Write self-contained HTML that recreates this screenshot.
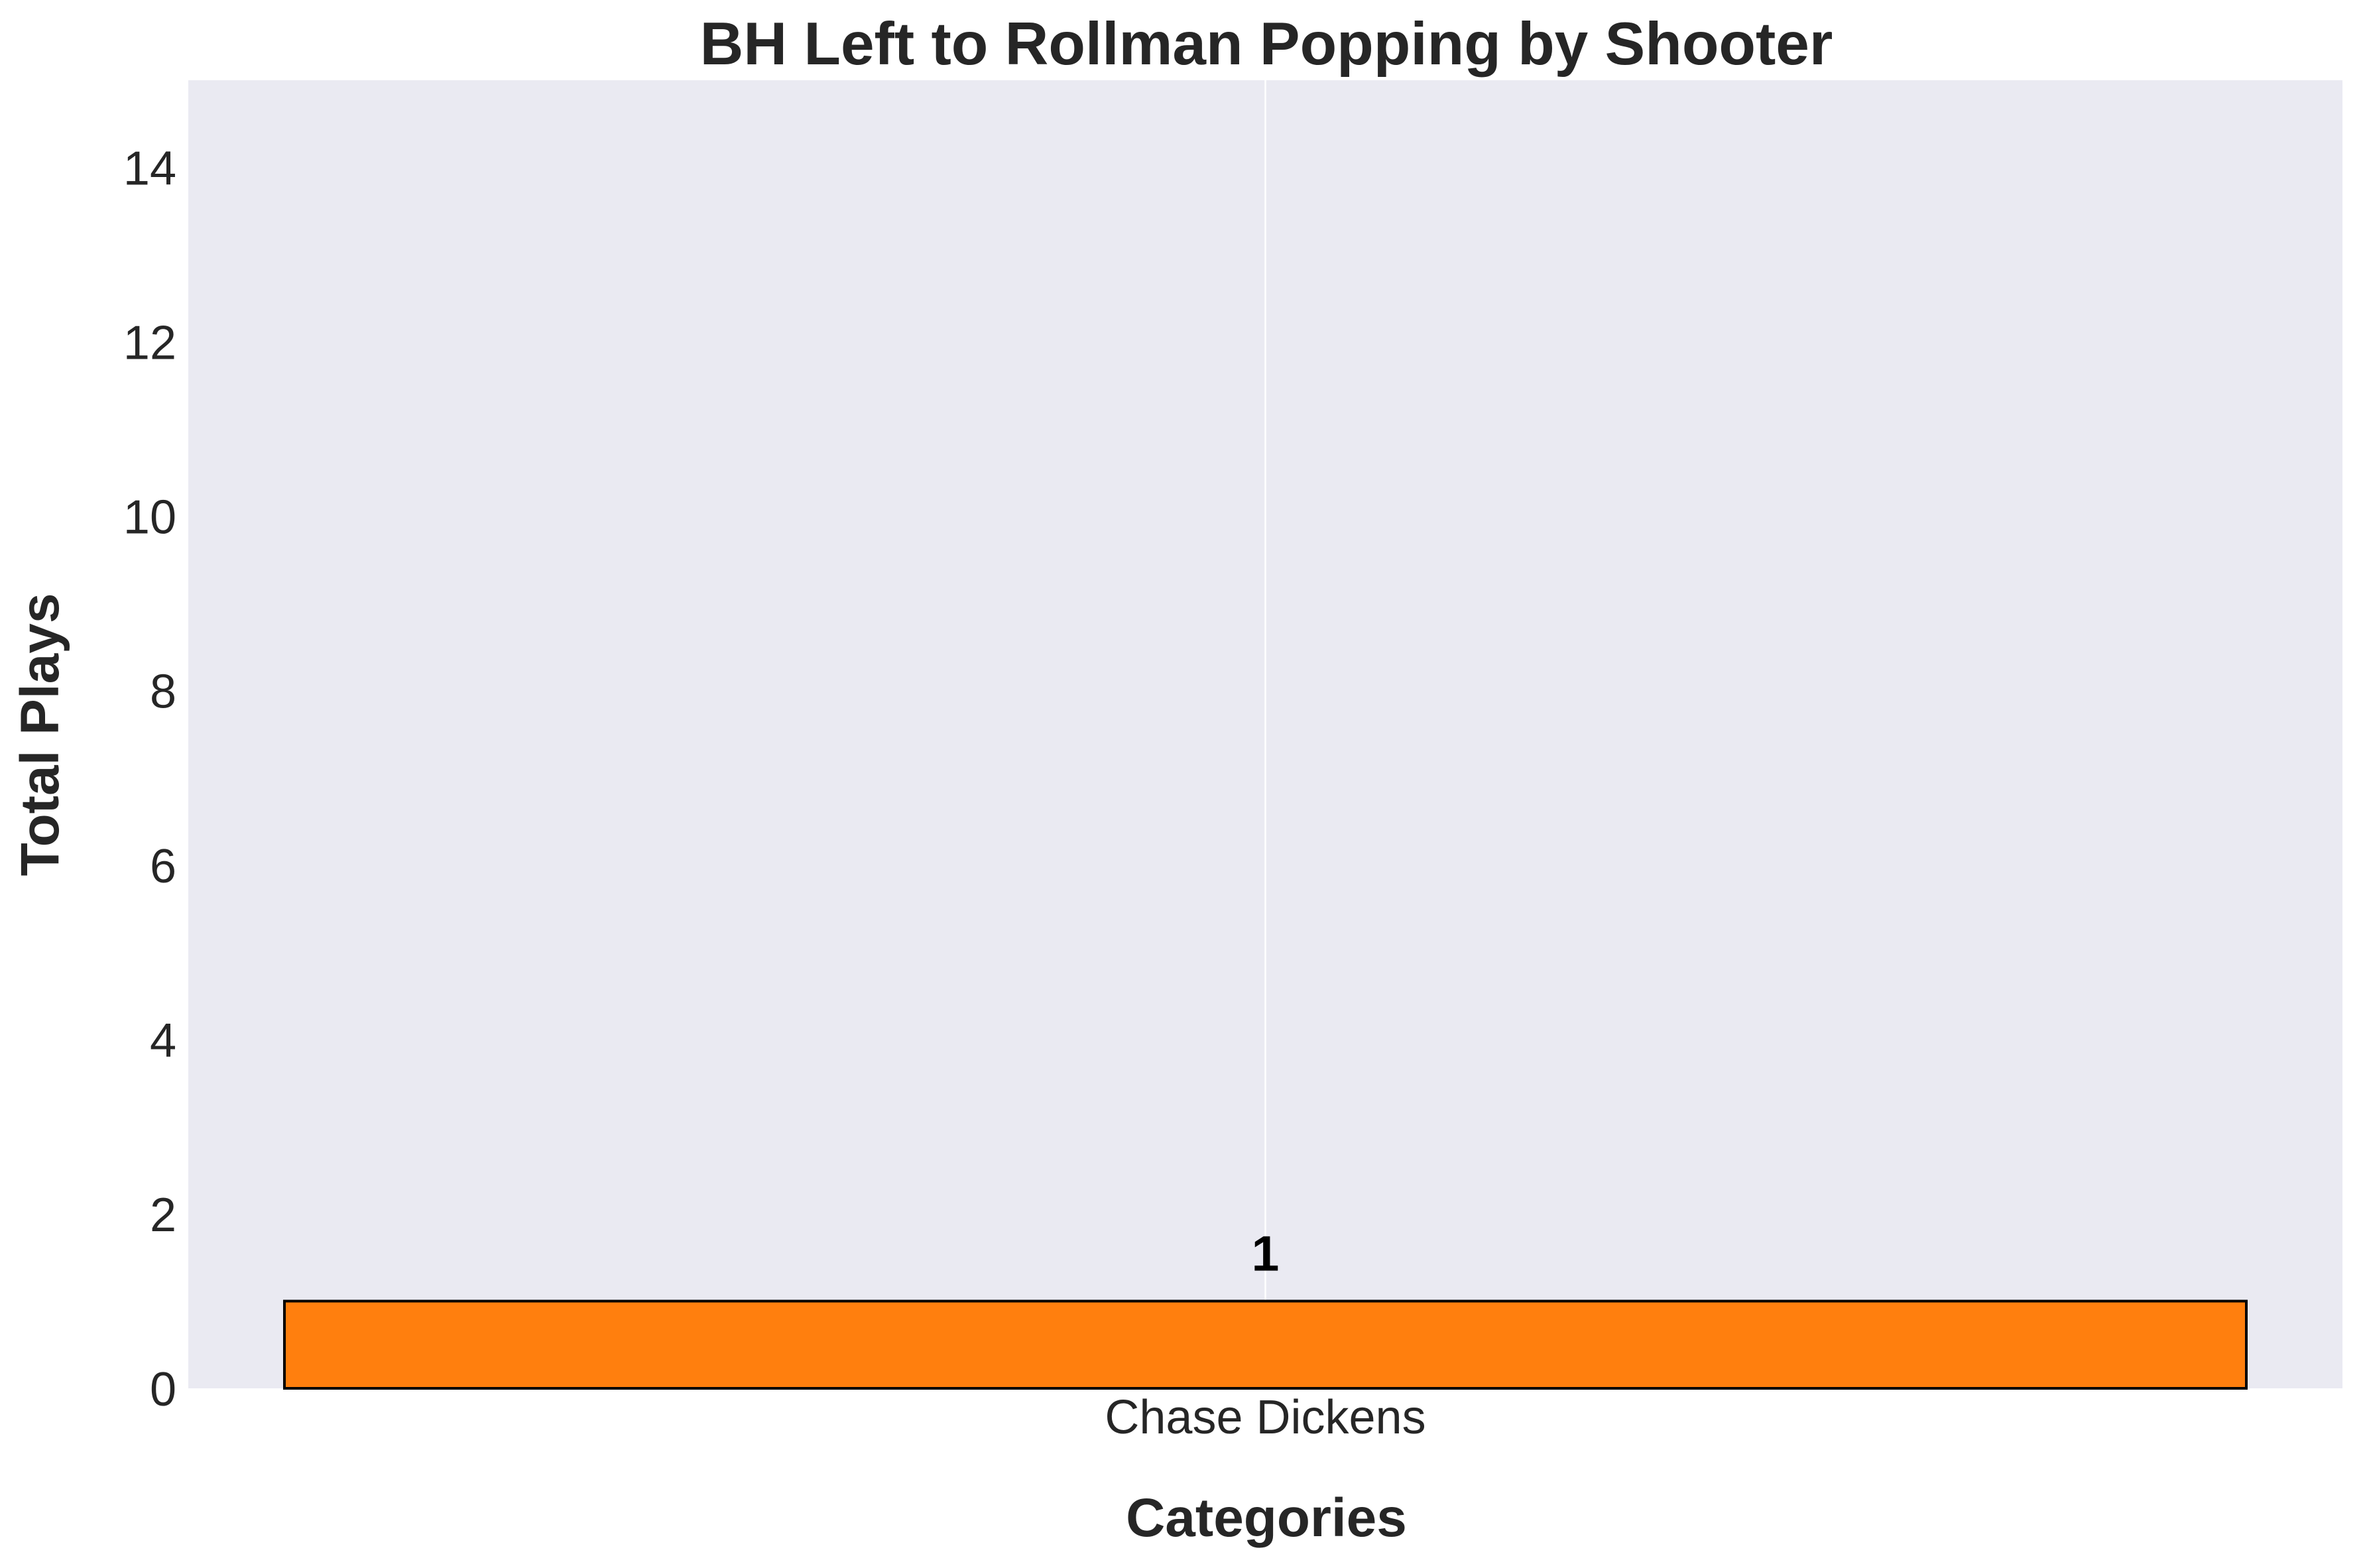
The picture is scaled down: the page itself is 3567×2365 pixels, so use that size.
<!DOCTYPE html>
<html><head><meta charset="utf-8"><style>
html,body{margin:0;padding:0;background:#fff;}
svg{display:block;font-family:"Liberation Sans",Arial,sans-serif;}
</style></head><body>
<svg id="chart" width="3567" height="2365" viewBox="0 0 3567 2365">
<text x="1910" y="97" text-anchor="middle" font-size="91" font-weight="bold" fill="#262626">BH Left to Rollman Popping by Shooter</text>
<rect x="284" y="121" width="3249" height="1973" fill="#eaeaf2"/>
<g id="grid"></g>
<g id="bars"></g>
<g id="yticks"></g>
<g id="xticks"></g>
<text transform="translate(88,1108) rotate(-90)" text-anchor="middle" font-size="82" font-weight="bold" fill="#262626">Total Plays</text>
<text x="1910" y="2317" text-anchor="middle" font-size="82" font-weight="bold" fill="#262626">Categories</text>
</svg>
<script>
const categories = ["Chase Dickens"];
const values = [1];
const yTicks = [0, 2, 4, 6, 8, 10, 12, 14];
const yMax = 15;

const NS = "http://www.w3.org/2000/svg";
const L = 284, R = 3533, T = 121, B = 2094;
const n = categories.length;
const xMin = -0.4392, xMax = n - 1 + 0.4392;
function xScale(v){ return L + (v - xMin) / (xMax - xMin) * (R - L); }
function yScale(v){ return B - v / yMax * (B - T); }
function mk(tag, attrs, parent){ const e = document.createElementNS(NS, tag); for (const k in attrs) e.setAttribute(k, attrs[k]); parent.appendChild(e); return e; }

const grid = document.getElementById('grid');
const bars = document.getElementById('bars');
const yt = document.getElementById('yticks');
const xt = document.getElementById('xticks');

categories.forEach((c, i) => {
  const g = mk('line', {x1: xScale(i), x2: xScale(i), y1: T, y2: B, stroke: '#ffffff', 'stroke-width': 2.5}, grid);
  
  
});

values.forEach((v, i) => {
  const x0 = xScale(i - 0.4), x1 = xScale(i + 0.4);
  const r = mk('rect', {x: x0, y: yScale(v), width: x1 - x0, height: yScale(0) - yScale(v), fill: '#ff7f0e', stroke: '#000', 'stroke-width': 4}, bars);
  
  
  const t = mk('text', {x: xScale(i), y: yScale(v) - 46, 'text-anchor': 'middle', 'font-size': 75, 'font-weight': 'bold', fill: '#000'}, bars);
  t.textContent = String(v);
  
  
  const xl = mk('text', {x: xScale(i), y: 2162, 'text-anchor': 'middle', 'font-size': 72, fill: '#262626'}, xt);
  xl.textContent = categories[i];
  
  
});

yTicks.forEach(v => {
  const t = mk('text', {x: 266, y: yScale(v) + 26, 'text-anchor': 'end', 'font-size': 72, fill: '#262626'}, yt);
  t.textContent = String(v);
  
  
});
</script>
</body></html>
